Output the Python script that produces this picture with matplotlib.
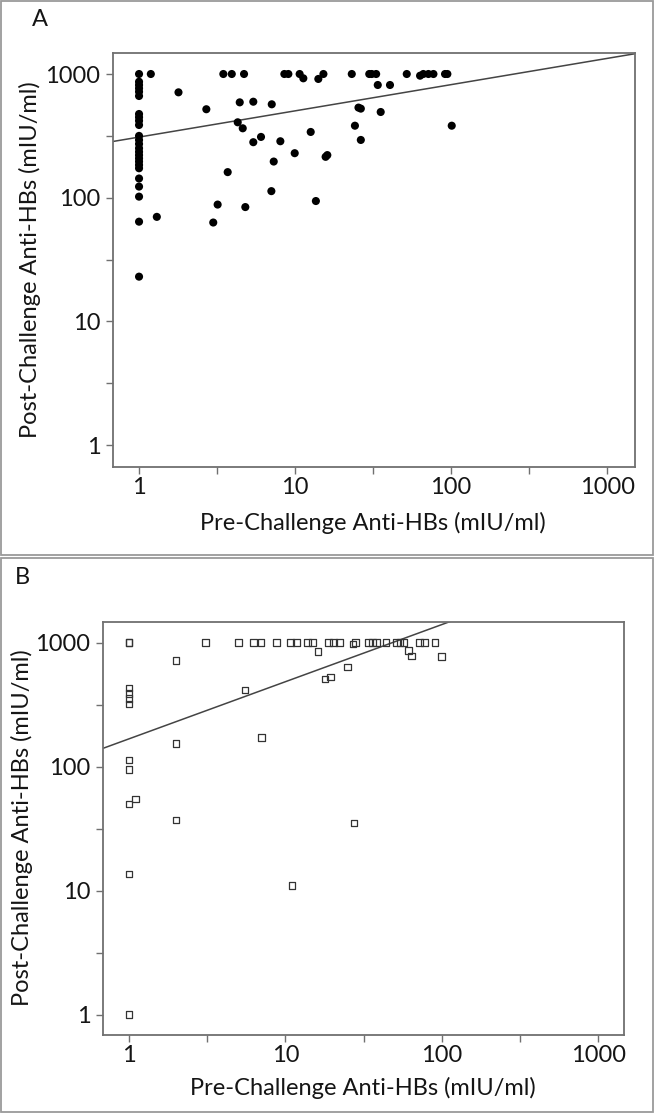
import numpy as np
import matplotlib
matplotlib.use('Agg')
import matplotlib.pyplot as plt
from matplotlib.patches import Rectangle
from matplotlib.ticker import NullFormatter

plt.rcParams['font.family'] = ['Lato', 'DejaVu Sans']

# panel A: pre / post challenge titres (filled circles)
pre_a = [1]*25 + [1.19, 1.3, 1.79, 2.7, 2.99, 3.19, 3.47, 3.7, 3.93, 4.29, 4.42, 4.62, 4.71, 4.8,
                  5.4, 5.4, 6.05, 7.05, 7.09, 7.3, 8.05, 8.54, 9.06, 9.95, 10.7, 11.3, 12.6, 13.6,
                  14.1, 15.2, 15.7, 16.1, 23.1, 24.2, 25.5, 26.4, 26.4, 29.9, 31.0, 33.1, 33.9,
                  35.4, 40.6, 52, 63.3, 66.4, 71.6, 77.1, 91.5, 94.7, 101]
post_a = [1000, 866, 815, 766, 719, 664, 475, 447, 419, 387, 316, 293, 272, 251, 235, 221, 208,
          196, 184, 173, 143, 123, 102, 64, 23,
          1000, 70, 711, 519, 63, 88, 1000, 161, 1000, 407, 590, 364, 1000, 84,
          597, 281, 310, 113, 569, 196, 286, 1000, 1000, 229, 1000, 923, 340, 94,
          912, 1000, 214, 221, 1000, 382, 535, 525, 293, 1000, 1000, 1000, 815,
          493, 815, 1000, 969, 1000, 1000, 1000, 1000, 1000, 382]

# panel B: (open squares)
pre_b = [1]*11 + [1.1, 2, 2, 2, 3.09, 5.0, 5.51, 6.23, 6.97, 7.0, 8.78, 10.8, 11, 11.8, 13.8,
                  14.9, 16.1, 17.9, 18.8, 19.4, 20.2, 22.1, 25, 27.1, 27.4, 28.1, 33.8, 36.1,
                  38.3, 43.9, 51.4, 54, 57.2, 60.9, 64, 71.6, 77.1, 90.2, 99.5]
post_b = [1000, 1000, 430, 390, 355, 320, 113, 95, 50, 13.6, 1,
          54.6, 716, 153, 37, 1000, 1000, 413, 1000, 1000, 171, 1000, 1000, 11, 1000, 1000,
          1000, 846, 507, 1000, 526, 1000, 1000, 634, 975, 35, 1000, 1000, 1000,
          1000, 1000, 1000, 1000, 1000, 862, 781, 1000, 1000, 1000, 771]

# fitted lines in log10 space: (intercept, slope)
fit_a = (2.49, 0.212)
fit_b = (2.224, 0.461)

ticks = [1, 10, 100, 1000]
tick_labels = ['1', '10', '100', '1000']
xlabel = 'Pre-Challenge Anti-HBs (mIU/ml)'
ylabel = 'Post-Challenge Anti-HBs (mIU/ml)'

fig = plt.figure(figsize=(6.54, 11.13), dpi=100)

spine_c = '#707070'
txt_c = '#151515'
fs = 17
axA = fig.add_axes([0.1728, 0.5804, 0.7982, 0.372])
axB = fig.add_axes([0.1575, 0.0701, 0.7965, 0.3711])

axA.scatter(pre_a, post_a, s=34, c='black', edgecolors='none', zorder=3)
axB.scatter(pre_b, post_b, s=22, marker='s', facecolors='none', edgecolors='#333333',
            linewidths=0.9, zorder=3)

for ax, fit, xlim, ylim in [(axA, fit_a, (0.681, 1511), (0.665, 1479)),
                            (axB, fit_b, (0.682, 1455), (0.685, 1468))]:
    ax.set_xscale('log')
    ax.set_yscale('log')
    ax.set_xlim(*xlim)
    ax.set_ylim(*ylim)
    xx = np.logspace(np.log10(xlim[0]), np.log10(xlim[1]), 50)
    ax.plot(xx, 10**(fit[0] + fit[1]*np.log10(xx)), color='#444444', lw=1.1, zorder=2)
    for axis in (ax.xaxis, ax.yaxis):
        axis.set_ticks(ticks)
        axis.set_ticklabels(tick_labels)
        axis.set_ticks([10**0.5, 10**1.5, 10**2.5], minor=True)
        axis.set_minor_formatter(NullFormatter())
    ax.tick_params(which='both', direction='out', length=5, width=1, color=spine_c,
                   labelsize=fs, labelcolor=txt_c)
    ax.tick_params(axis='x', pad=2)
    ax.tick_params(axis='y', pad=4)
    for sp in ax.spines.values():
        sp.set_color(spine_c)
        sp.set_linewidth(1.3)

# axis titles and panel letters
fig.text(373/654, 1 - 523/1113, xlabel, ha='center', va='center', fontsize=fs, color=txt_c)
fig.text(30/654, 1 - 260/1113, ylabel, ha='center', va='center', rotation=90, fontsize=fs,
         color=txt_c)
fig.text(363/654, 1 - 1088/1113, xlabel, ha='center', va='center', fontsize=fs, color=txt_c)
fig.text(22/654, 1 - 828/1113, ylabel, ha='center', va='center', rotation=90, fontsize=fs,
         color=txt_c)
fig.text(40/654, 1 - 20/1113, 'A', ha='center', va='center', fontsize=fs, color=txt_c)
fig.text(22/654, 1 - 578/1113, 'B', ha='center', va='center', fontsize=fs, color=txt_c)

# panel frames
fig.add_artist(Rectangle((1/654, 1 - 555/1113), 652/654, 554/1113, transform=fig.transFigure,
                         fill=False, ec='#9a9a9a', lw=1.3))
fig.add_artist(Rectangle((1/654, 1 - 1112/1113), 652/654, 554/1113, transform=fig.transFigure,
                         fill=False, ec='#9a9a9a', lw=1.3))

fig.savefig('out.png', dpi=100)
